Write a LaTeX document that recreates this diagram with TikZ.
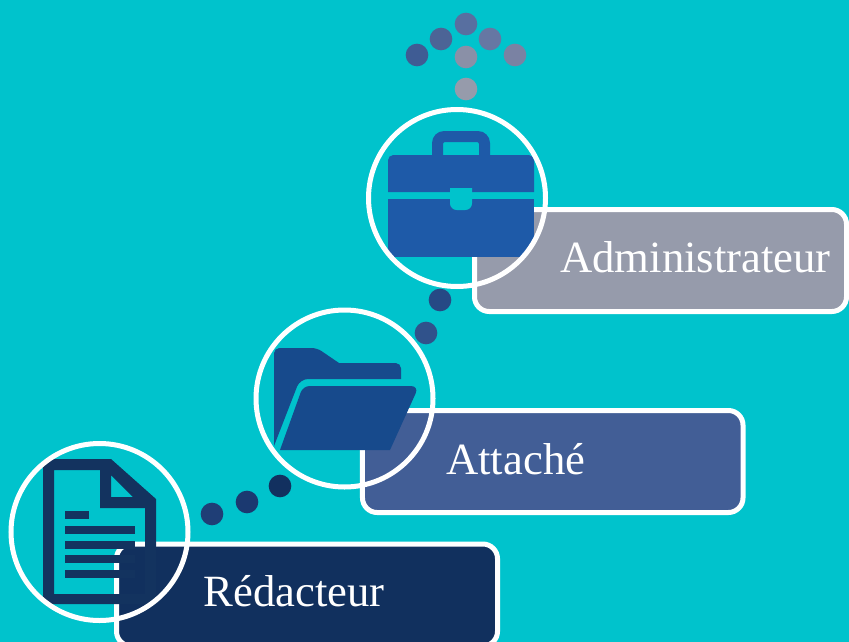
\documentclass[tikz,border=0pt]{standalone}
\usepackage{fontspec}
\setmainfont{Liberation Serif}
\definecolor{teal}{HTML}{00C3CC}
\definecolor{adminbox}{HTML}{969BAB}
\definecolor{attachebox}{HTML}{425E96}
\definecolor{redacteurbox}{HTML}{11305E}
\definecolor{caseblue}{HTML}{1E5AA8}
\definecolor{folderblue}{HTML}{174A8C}
\definecolor{docblue}{HTML}{13335F}
\begin{document}
\begin{tikzpicture}[x=0.75pt,y=-0.75pt]

    \tikzset{
      gradebox/.style={
        draw=white,
        line width=3.75pt,
        rounded corners=11pt,
        minimum height=76.5pt,
        inner sep=0pt,
      },
      ring/.style={
        draw=white,
        line width=3.75pt,
        circle,
        inner sep=0pt,
        minimum size=132.75pt,
      },
      gradename/.style={
        text=white,
        anchor=base west,
        inner sep=0pt,
        font=\fontsize{33.5}{36}\selectfont,
      },
      dot/.style={
        circle,
        inner sep=0pt,
        minimum size=17pt,
      },
    }
    \useasboundingbox (0,0) rectangle (849,642);
    \clip (0,0) rectangle (849,642);
    \fill[teal] (0,0) rectangle (849,642);

    \node[gradebox,fill=adminbox,minimum width=279pt] (adminbox) at (660.5,260.5) {};
    \node[gradebox,fill=attachebox,minimum width=285.4pt] (attachebox) at (552.75,461.5) {};
    \node[gradebox,fill=redacteurbox,minimum width=285.75pt] (redacteurbox) at (307,595) {};

    \node[gradename] (adminname) at (560,272) {Administrateur};
    \node[gradename] (attachename) at (446,474) {Attaché};
    \node[gradename] (redacteurname) at (203.5,606) {Rédacteur};

    \foreach \i/\x/\y/\c in {
      1/466/89/969BAB, 2/466/57/8A90A7, 3/515/55/7A82A3, 4/490/39/6677A3,
      5/466/24/586FA0, 6/441/39/4C6496, 7/417/55/3F5C94,
      8/440/300/264985, 9/426/333/30528B,
      10/280/486/12305F, 11/247/502/1B3970, 12/212/514/1F3E76} {
      \definecolor{dotcolor}{HTML}{\c}
      \node[dot,fill=dotcolor] (dot\i) at (\x,\y) {};
    }

    % briefcase
    \begin{scope}
      \clip (457,198) circle (88);
      \fill[caseblue,even odd rule,rounded corners=9pt]
        (432,175) -- (432,131) -- (490,131) -- (490,175) -- cycle
        [rounded corners=1.5pt] (443,175) -- (443,142) -- (479,142) -- (479,175) -- cycle;
      \fill[caseblue] (388,192) [rounded corners=4pt] -- (388,155) -- (534,155) [sharp corners] -- (534,192) -- cycle;
      \fill[caseblue] (388,199) rectangle (534,257);
      \fill[teal] (450,188) [rounded corners=5pt] -- (450,210) -- (472,210) [sharp corners] -- (472,188) -- cycle;
    \end{scope}

    % folder
    \begin{scope}
      \clip (344.5,398.5) circle (88);
      \fill[folderblue] (274,446) [rounded corners=4pt] -- (274,348) -- (317,348) [sharp corners] -- (339,363)
        [rounded corners=4pt] -- (401,363) [sharp corners] -- (401,379)
        [rounded corners=6pt] -- (300,379) [sharp corners] -- cycle;
      \fill[folderblue] (280,450) [rounded corners=5pt] -- (303,386) [rounded corners=6pt] -- (419,386) [sharp corners] -- (390,450) -- cycle;
    \end{scope}

    % document
    \begin{scope}
      \clip (99.5,532) circle (88);
      \fill[docblue,even odd rule]
        (43,459) -- (111,459) -- (156,499) -- (156,604) -- (43,604) -- cycle
        (54,470) -- (100,470) -- (100,508) -- (145,508) -- (145,594) -- (54,594) -- cycle
        (111,475) -- (133,497) -- (111,497) -- cycle;
      \fill[docblue] (65,511) rectangle (89,519);
      \foreach \y in {526,541,555,570} {
        \fill[docblue] (65,\y) rectangle (135,\y+8);
      }
    \end{scope}

    \node[ring] (adminring) at (457,198) {};
    \node[ring] (attachering) at (344.5,398.5) {};
    \node[ring] (redacteurring) at (99.5,532) {};

\end{tikzpicture}
\end{document}
